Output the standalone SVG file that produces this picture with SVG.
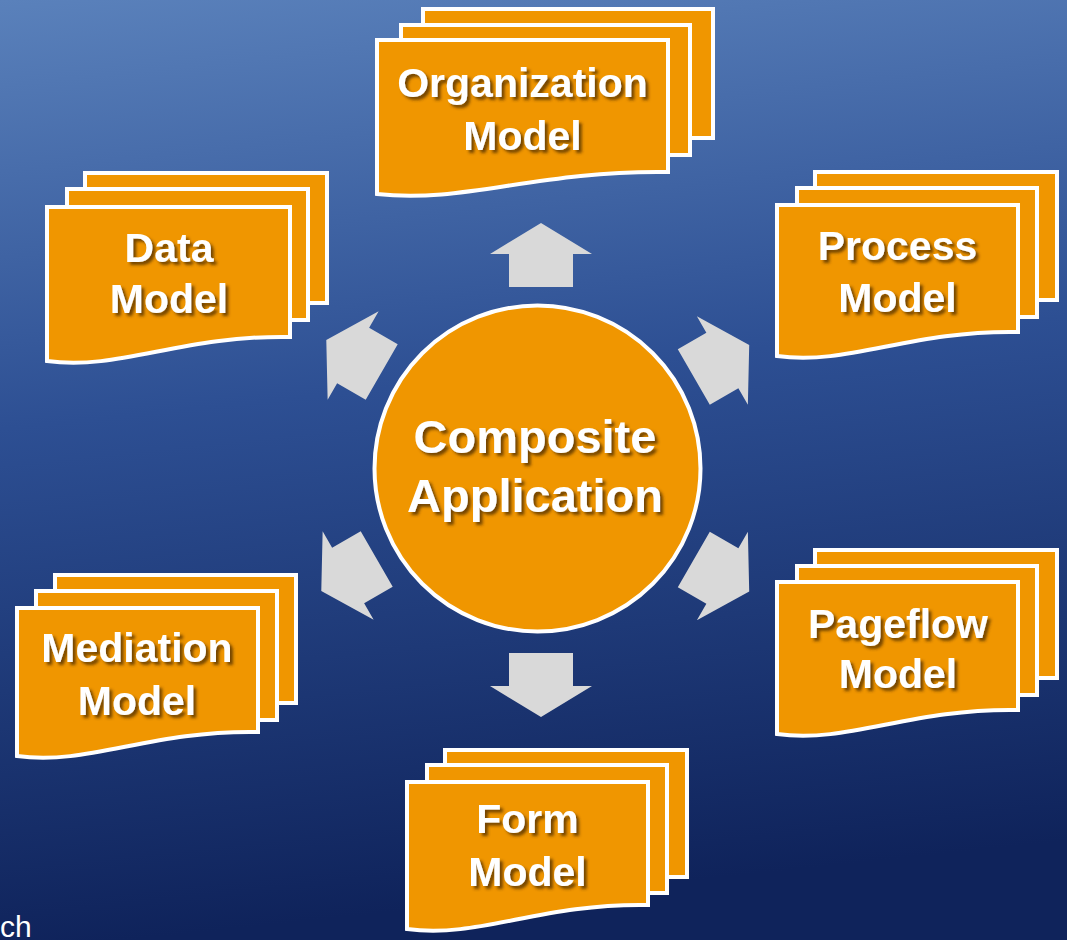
<svg xmlns="http://www.w3.org/2000/svg" width="1067" height="940" viewBox="0 0 1067 940">
  <defs>
    <linearGradient id="bg" x1="0" y1="0" x2="0.12" y2="1">
      <stop offset="0" stop-color="#5a81bb"/>
      <stop offset="0.45" stop-color="#2d4f93"/>
      <stop offset="1" stop-color="#0f235b"/>
    </linearGradient>
    <filter id="ts" x="-10%" y="-30%" width="130%" height="170%">
      <feGaussianBlur in="SourceAlpha" stdDeviation="1.8"/>
      <feOffset dx="3" dy="3" result="b"/>
      <feFlood flood-color="#4a2a00" flood-opacity="0.75"/>
      <feComposite in2="b" operator="in"/>
      <feMerge><feMergeNode/><feMergeNode in="SourceGraphic"/></feMerge>
    </filter>
    <path id="arrow" d="M0,-32 L51,-1 L32,-1 L32,32 L-32,32 L-32,-1 L-51,-1 Z"/>
  </defs>
  <style>
    .sheet { fill: #f09600; stroke: #ffffff; stroke-width: 4; stroke-linejoin: miter; }
    .lbl { font-family: "Liberation Sans", Arial, sans-serif; font-weight: bold; font-size: 41px; fill: #ffffff; text-anchor: middle; filter: url(#ts); }
    .big { font-size: 47px; }
    .arr { fill: #d9d9d9; }
  </style>

  <rect x="0" y="0" width="1067" height="940" fill="url(#bg)"/>

  <g id="connectors">
    <use href="#arrow" class="arr" transform="translate(541,255)"/>
    <use href="#arrow" class="arr" transform="translate(541,685) rotate(180)"/>
    <use href="#arrow" class="arr" transform="translate(354,356) rotate(-60)"/>
    <use href="#arrow" class="arr" transform="translate(721.5,361) rotate(60)"/>
    <use href="#arrow" class="arr" transform="translate(349,575) rotate(-120)"/>
    <use href="#arrow" class="arr" transform="translate(721.5,575.5) rotate(120)"/>
  </g>

  <g id="composite">
    <circle cx="537.5" cy="468.5" r="163" fill="#f09600" stroke="#ffffff" stroke-width="4"/>
    <text class="lbl big" x="535" y="453">Composite</text>
    <text class="lbl big" x="535" y="512">Application</text>
  </g>

  <g id="organization">
    <rect class="sheet" x="423" y="9" width="290" height="129"/>
    <rect class="sheet" x="401" y="25" width="289" height="130"/>
    <path class="sheet" d="M377,40 H668 V172 C537,170 464,204 377,194 Z"/>
    <text class="lbl" x="522.5" y="97">Organization</text>
    <text class="lbl" x="522.5" y="150">Model</text>
  </g>

  <g id="data">
    <rect class="sheet" x="85" y="173" width="242" height="130"/>
    <rect class="sheet" x="67" y="189" width="241" height="131"/>
    <path class="sheet" d="M47,207 H290 V337 C181,335 120,371 47,361 Z"/>
    <text class="lbl" x="169" y="262">Data</text>
    <text class="lbl" x="169" y="313">Model</text>
  </g>

  <g id="process">
    <rect class="sheet" x="815" y="172" width="242" height="128"/>
    <rect class="sheet" x="797" y="188" width="240" height="129"/>
    <path class="sheet" d="M777,205 H1018 V332 C910,330 849,366 777,356 Z"/>
    <text class="lbl" x="897.5" y="260">Process</text>
    <text class="lbl" x="897.5" y="312">Model</text>
  </g>

  <g id="pageflow">
    <rect class="sheet" x="815" y="550" width="242" height="128"/>
    <rect class="sheet" x="797" y="566" width="240" height="129"/>
    <path class="sheet" d="M777,582 H1018 V710 C910,708 849,744 777,734 Z"/>
    <text class="lbl" x="898" y="638">Pageflow</text>
    <text class="lbl" x="898" y="688">Model</text>
  </g>

  <g id="mediation">
    <rect class="sheet" x="55" y="575" width="241" height="128"/>
    <rect class="sheet" x="36" y="591" width="241" height="129"/>
    <path class="sheet" d="M17,608 H258 V732 C150,730 89,766 17,756 Z"/>
    <text class="lbl" x="137" y="662">Mediation</text>
    <text class="lbl" x="137" y="715">Model</text>
  </g>

  <g id="form">
    <rect class="sheet" x="445" y="750" width="242" height="127"/>
    <rect class="sheet" x="427" y="765" width="240" height="128"/>
    <path class="sheet" d="M407,782 H648 V905 C540,903 479,939 407,929 Z"/>
    <text class="lbl" x="527.5" y="833">Form</text>
    <text class="lbl" x="527.5" y="886">Model</text>
  </g>

  <text x="0" y="937" font-family="Liberation Sans, Arial, sans-serif" font-size="30" fill="#ffffff">ch</text>
</svg>
